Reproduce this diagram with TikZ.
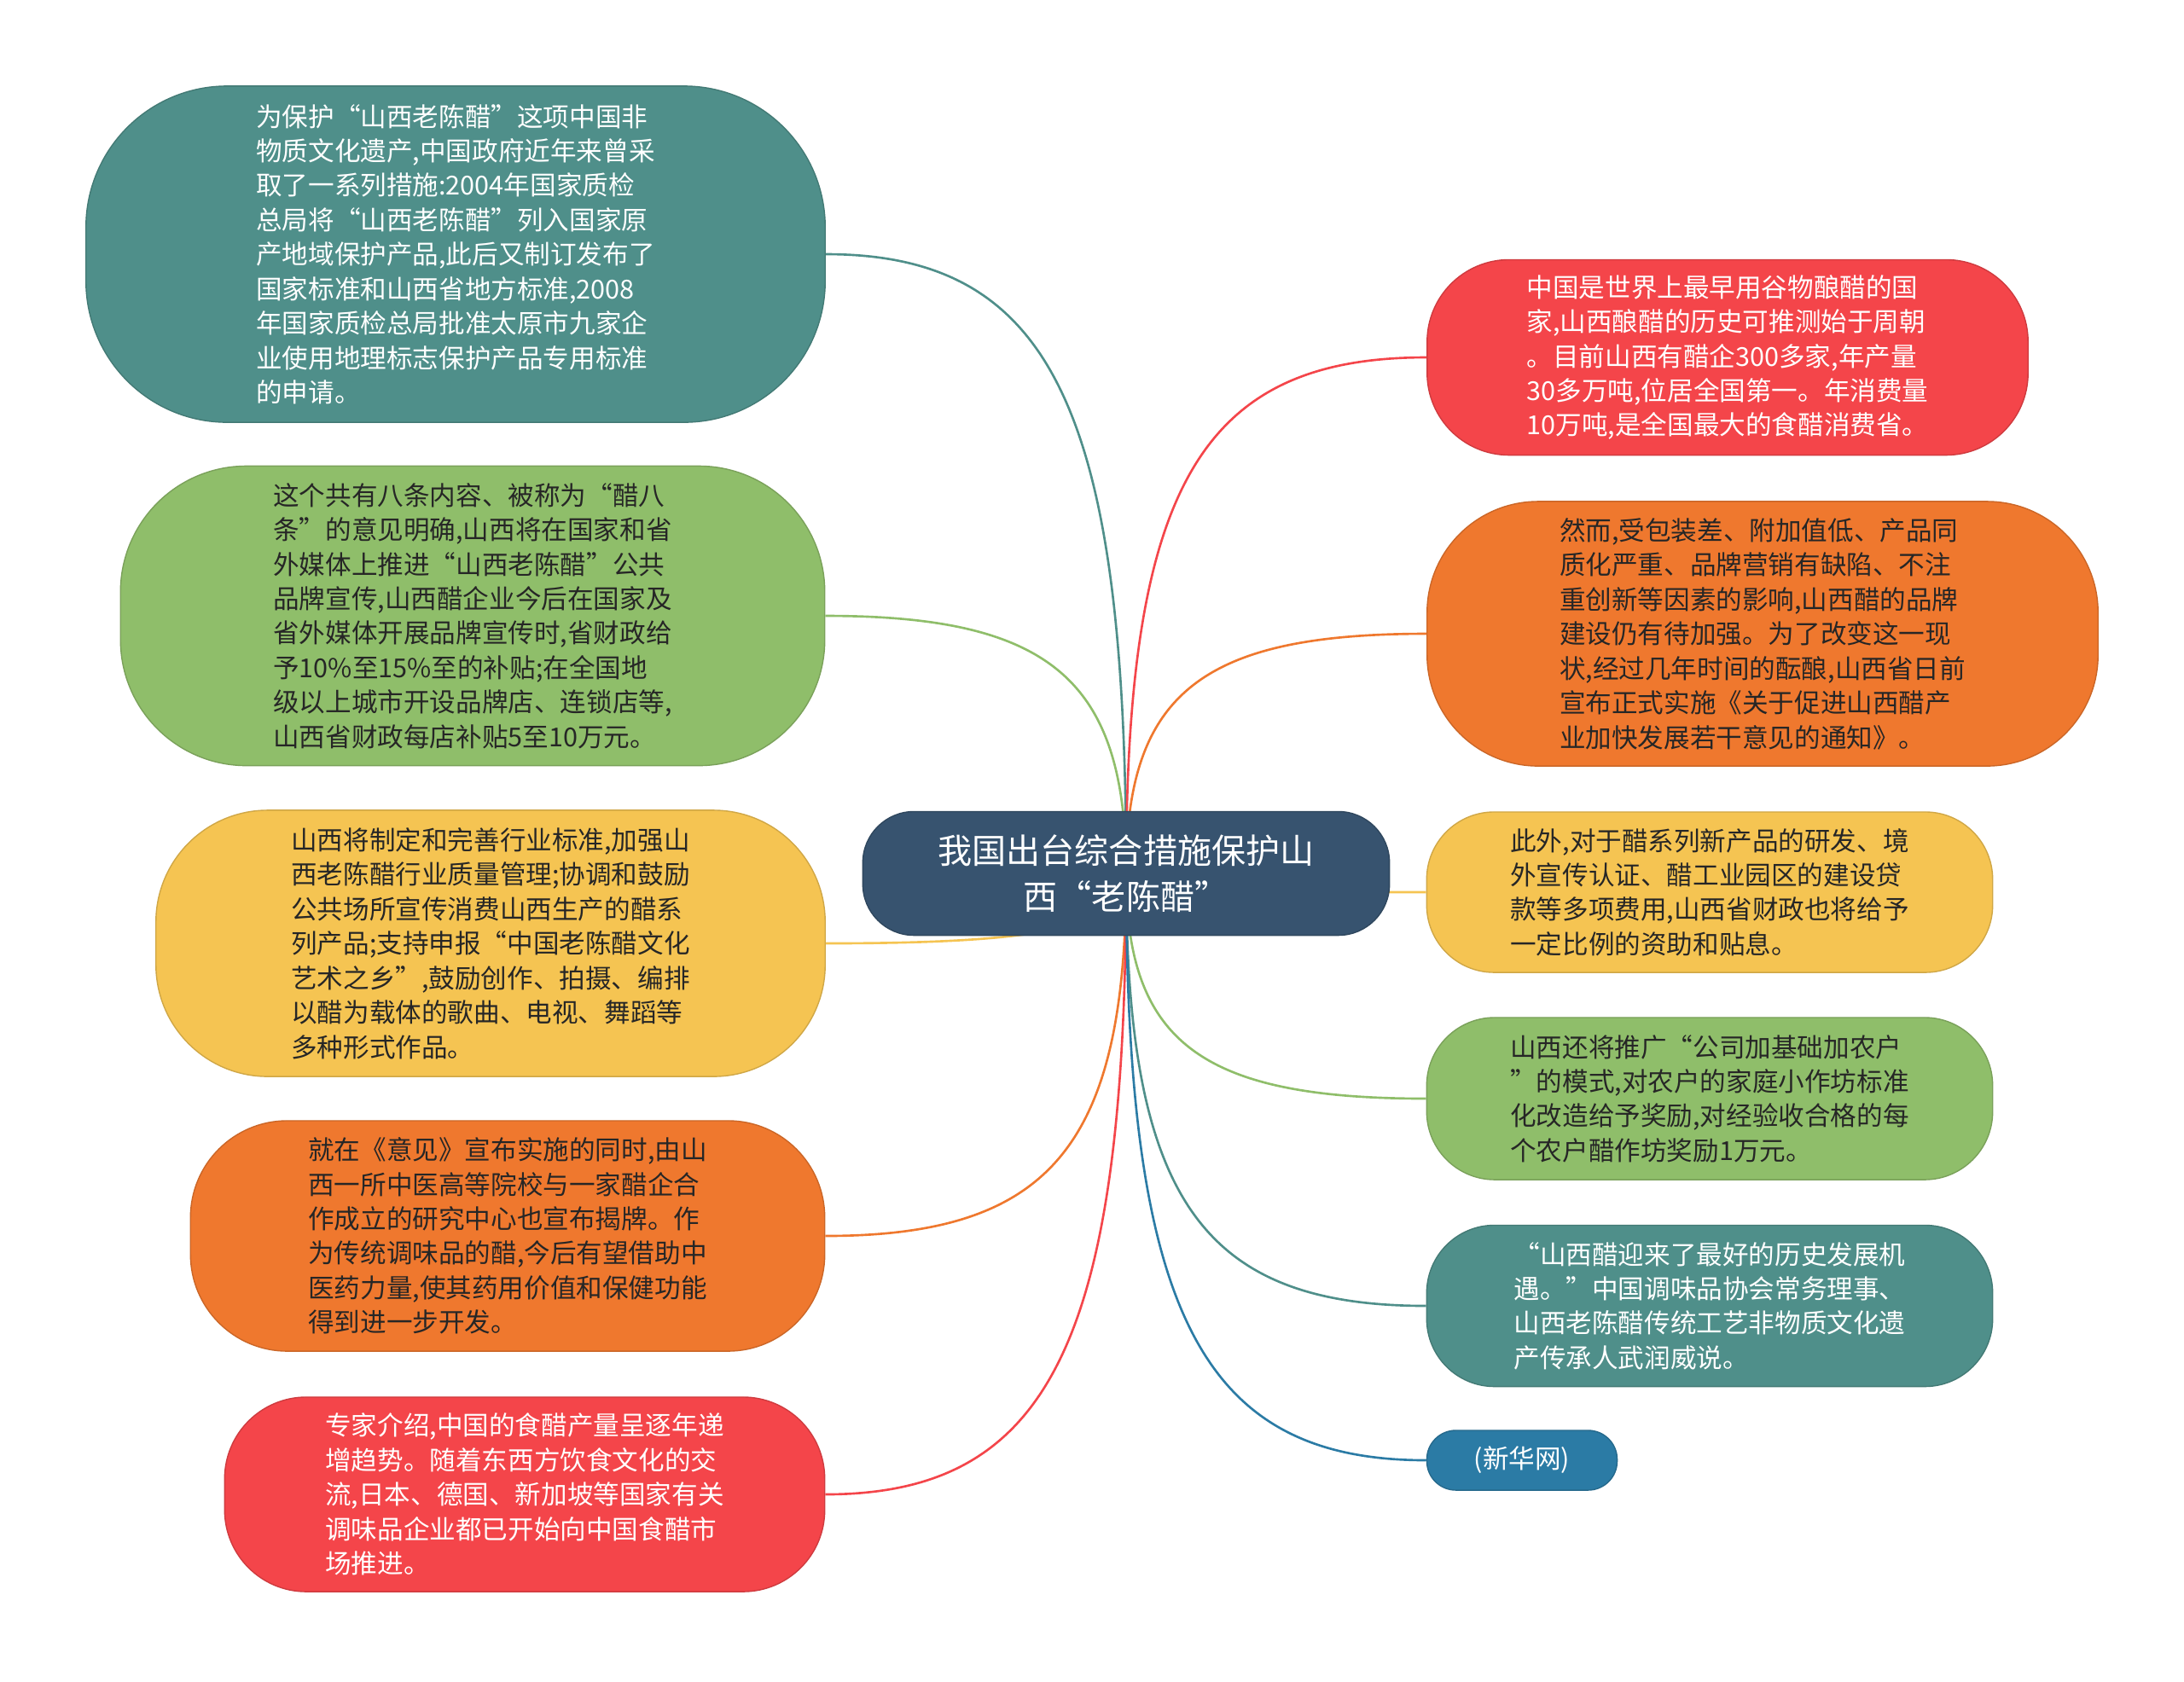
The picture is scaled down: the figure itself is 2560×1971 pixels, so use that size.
\documentclass[tikz,border=0pt]{standalone}
\usepackage{fontspec}
\setmainfont{Noto Sans CJK SC}
\usepackage{xcolor}
\usepackage{tikz}
\usetikzlibrary{calc}

\definecolor{mmteal}{HTML}{4F8F8A}
\definecolor{mmgreen}{HTML}{8FBE6A}
\definecolor{mmyellow}{HTML}{F5C452}
\definecolor{mmorange}{HTML}{EF782E}
\definecolor{mmred}{HTML}{F4454A}
\definecolor{mmnavy}{HTML}{37536F}
\definecolor{mmblue}{HTML}{2B7BA5}
\definecolor{mmink}{HTML}{262626}

\begin{document}
\begin{tikzpicture}[
   x=0.01cm, y=-0.01cm,
   leaf/.style={fill=#1, draw=#1!85!black, line width=0.4pt, inner sep=0pt,
      align=left, font=\fontsize{8.7}{11.5}\selectfont},
   pill/.style 2 args={minimum width=#1, minimum height=#2, rounded corners=0.42*#2},
   light/.style={text=white},
   dark/.style={text=mmink},
   branch/.style={draw=#1, line width=0.75pt},
   ]
   \fill[white] (0,0) rectangle (2560,1971);
   \useasboundingbox (0,0) rectangle (2560,1971);

   % left side
   \node[leaf=mmteal, light, pill={8.66cm}{3.94cm}] (l1) at (534,298)
   {为保护“山西老陈醋”这项中国非\\物质文化遗产,中国政府近年来曾采\\取了一系列措施:2004年国家质检\\总局将“山西老陈醋”列入国家原\\产地域保护产品,此后又制订发布了\\国家标准和山西省地方标准,2008\\年国家质检总局批准太原市九家企\\业使用地理标志保护产品专用标准\\的申请。};
   \node[leaf=mmgreen, dark, pill={8.25cm}{3.51cm}] (l2) at (554,722)
   {这个共有八条内容、被称为“醋八\\条”的意见明确,山西将在国家和省\\外媒体上推进“山西老陈醋”公共\\品牌宣传,山西醋企业今后在国家及\\省外媒体开展品牌宣传时,省财政给\\予10\%至15\%至的补贴;在全国地\\级以上城市开设品牌店、连锁店等,\\山西省财政每店补贴5至10万元。};
   \node[leaf=mmyellow, dark, pill={7.84cm}{3.12cm}] (l3) at (575,1106)
   {山西将制定和完善行业标准,加强山\\西老陈醋行业质量管理;协调和鼓励\\公共场所宣传消费山西生产的醋系\\列产品;支持申报“中国老陈醋文化\\艺术之乡”,鼓励创作、拍摄、编排\\以醋为载体的歌曲、电视、舞蹈等\\多种形式作品。};
   \node[leaf=mmorange, dark, pill={7.43cm}{2.70cm}] (l4) at (595,1449)
   {就在《意见》宣布实施的同时,由山\\西一所中医高等院校与一家醋企合\\作成立的研究中心也宣布揭牌。作\\为传统调味品的醋,今后有望借助中\\医药力量,使其药用价值和保健功能\\得到进一步开发。};
   \node[leaf=mmred, light, pill={7.03cm}{2.28cm}] (l5) at (615,1752)
   {专家介绍,中国的食醋产量呈逐年递\\增趋势。随着东西方饮食文化的交\\流,日本、德国、新加坡等国家有关\\调味品企业都已开始向中国食醋市\\场推进。};

   % right side
   \node[leaf=mmred, light, pill={7.04cm}{2.29cm}] (r1) at (2025,419)
   {中国是世界上最早用谷物酿醋的国\\家,山西酿醋的历史可推测始于周朝\\。目前山西有醋企300多家,年产量\\30多万吨,位居全国第一。年消费量\\10万吨,是全国最大的食醋消费省。};
   \node[leaf=mmorange, dark, pill={7.86cm}{3.10cm}] (r2) at (2066,743)
   {然而,受包装差、附加值低、产品同\\质化严重、品牌营销有缺陷、不注\\重创新等因素的影响,山西醋的品牌\\建设仍有待加强。为了改变这一现\\状,经过几年时间的酝酿,山西省日前\\宣布正式实施《关于促进山西醋产\\业加快发展若干意见的通知》。};
   \node[leaf=mmyellow, dark, pill={6.63cm}{1.88cm}] (r3) at (2004,1046)
   {此外,对于醋系列新产品的研发、境\\外宣传认证、醋工业园区的建设贷\\款等多项费用,山西省财政也将给予\\一定比例的资助和贴息。};
   \node[leaf=mmgreen, dark, pill={6.63cm}{1.90cm}] (r4) at (2004,1288)
   {山西还将推广“公司加基础加农户\\”的模式,对农户的家庭小作坊标准\\化改造给予奖励,对经验收合格的每\\个农户醋作坊奖励1万元。};
   \node[leaf=mmteal, light, pill={6.63cm}{1.89cm}] (r5) at (2004,1531)
   {“山西醋迎来了最好的历史发展机\\遇。”中国调味品协会常务理事、\\山西老陈醋传统工艺非物质文化遗\\产传承人武润威说。};
   \node[leaf=mmblue, light, minimum width=2.23cm, minimum height=0.70cm,
      rounded corners=0.34cm] (r6) at (1784,1712) {(新华网)};

   % branches from the hub
   \coordinate (hub) at (1320,1024);
   \foreach \n/\c in {l1/mmteal,l2/mmgreen,l3/mmyellow,l4/mmorange,l5/mmred}
   \draw[branch=\c] (hub) .. controls ($(hub)!0.75!(hub |- \n.east)$)
      and ($(\n.east)!0.75!(hub |- \n.east)$) .. (\n.east);
   \foreach \n/\c in {r1/mmred,r2/mmorange,r3/mmyellow,r4/mmgreen,r5/mmteal,r6/mmblue}
   \draw[branch=\c] (hub) .. controls ($(hub)!0.75!(hub |- \n.west)$)
      and ($(\n.west)!0.75!(hub |- \n.west)$) .. (\n.west);

   % central topic
   \node[leaf=mmnavy, light, align=center, minimum width=6.17cm, minimum height=1.45cm,
      rounded corners=0.6cm, font=\fontsize{11.4}{15.3}\selectfont] (root) at (hub)
   {我国出台综合措施保护山\\西“老陈醋”};
\end{tikzpicture}
\end{document}
